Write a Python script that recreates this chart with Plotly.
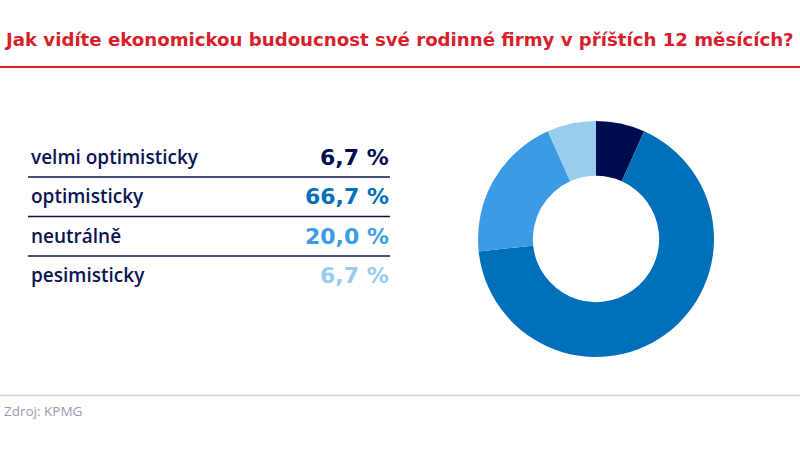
import plotly.graph_objects as go

categories = ["velmi optimisticky", "optimisticky", "neutrálně", "pesimisticky"]
values = [6.7, 66.7, 20.0, 6.7]
colors = ["#000c4f", "#0070bb", "#3d9be6", "#99cdee"]
title = "Jak vidíte ekonomickou budoucnost své rodinné firmy v příštích 12 měsících?"
source = "Zdroj: KPMG"

W, H = 800, 449
navy = "#0b1452"
font_family = "Open Sans, sans-serif"
bold_family = "DejaVu Sans, sans-serif"

def py(pix):
    return 1 - pix / H

fig = go.Figure()
fig.add_trace(go.Pie(
    labels=categories, values=values, sort=False, direction="clockwise",
    rotation=0, hole=0.535, marker=dict(colors=colors, line=dict(width=0)),
    textinfo="none", hoverinfo="label+value", showlegend=False,
    domain=dict(x=[478 / W, 714 / W], y=[py(357), py(121)]),
))

annotations = []
shapes = []
annotations.append(dict(x=2 / W, y=py(39), xref="paper", yref="paper", text="<b>" + title + "</b>",
                        showarrow=False, xanchor="left", yanchor="middle",
                        font=dict(family=bold_family, size=18.15, color="#d7202b")))
shapes.append(dict(type="line", xref="paper", yref="paper", x0=0, x1=1, y0=py(67), y1=py(67),
                   line=dict(color="#d7202b", width=2)))

row_y = [157, 196, 236, 275]
for i, (c, v, col) in enumerate(zip(categories, values, colors)):
    annotations.append(dict(x=29 / W, y=py(row_y[i]), xref="paper", yref="paper", text=c,
                            showarrow=False, xanchor="left", yanchor="middle",
                            font=dict(family=font_family, size=19, color=navy, weight=600)))
    annotations.append(dict(x=391 / W, y=py(row_y[i]), xref="paper", yref="paper",
                            text="<b>" + f"{v:.1f}".replace(".", ",") + " %</b>",
                            showarrow=False, xanchor="right", yanchor="middle",
                            font=dict(family=bold_family, size=22, color=col)))
    if i < len(categories) - 1:
        ly = (row_y[i] + row_y[i + 1]) / 2 + 0.5
        shapes.append(dict(type="line", xref="paper", yref="paper", x0=28 / W, x1=390 / W,
                           y0=py(ly), y1=py(ly), line=dict(color=navy, width=1.5)))

shapes.append(dict(type="line", xref="paper", yref="paper", x0=0, x1=1, y0=py(395.5), y1=py(395.5),
                   line=dict(color="#d0d0d0", width=1.5)))
annotations.append(dict(x=2 / W, y=py(411), xref="paper", yref="paper", text=source,
                        showarrow=False, xanchor="left", yanchor="middle",
                        font=dict(family=font_family, size=13.5, color="#9a9ab4")))

fig.update_layout(width=W, height=H, margin=dict(l=0, r=0, t=0, b=0),
                  paper_bgcolor="white", plot_bgcolor="white",
                  annotations=annotations, shapes=shapes)
fig.write_html("out.html", config={"displayModeBar": False},
               post_script="document.body.style.margin='0';document.body.style.padding='0';")
